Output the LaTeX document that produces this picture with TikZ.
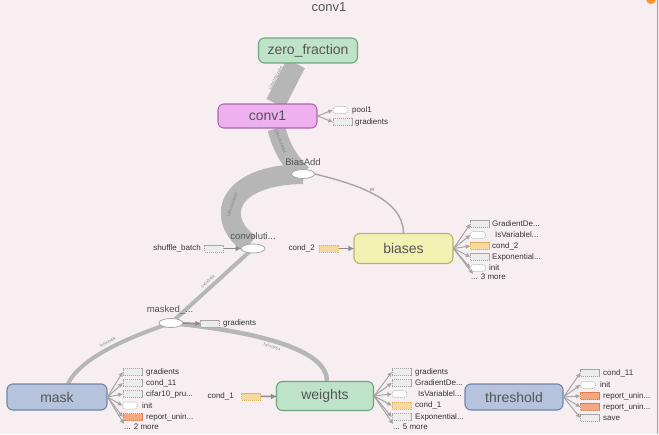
\documentclass[tikz,border=0pt]{standalone}
\usepackage{fontspec}
\setmainfont{Liberation Sans}
\usetikzlibrary{arrows.meta,calc,shapes.geometric}
\definecolor{bgc}{RGB}{247,238,242}
\definecolor{greenf}{RGB}{191,227,200}
\definecolor{greend}{RGB}{110,165,125}
\definecolor{magf}{RGB}{238,176,238}
\definecolor{magd}{RGB}{176,102,176}
\definecolor{yelf}{RGB}{241,241,178}
\definecolor{yeld}{RGB}{182,182,107}
\definecolor{bluef}{RGB}{181,195,221}
\definecolor{blued}{RGB}{115,131,166}
\definecolor{edgec}{RGB}{182,182,182}
\definecolor{thinc}{RGB}{165,165,165}
\definecolor{inc}{RGB}{140,140,140}
\definecolor{txt}{RGB}{85,85,85}
\definecolor{orf}{RGB}{246,217,160}
\definecolor{ord}{RGB}{224,176,96}
\definecolor{salf}{RGB}{243,168,130}
\definecolor{sald}{RGB}{224,128,80}
\definecolor{grf}{RGB}{236,236,236}
\definecolor{grd}{RGB}{165,165,165}
\pgfdeclarelayer{bg}\pgfdeclarelayer{edges}\pgfsetlayers{bg,edges,main}
\tikzset{
 big/.style={draw, rounded corners=6pt, line width=1.1pt, minimum width=99pt, minimum height=25pt, font=\fontsize{14}{14}\selectfont, text=txt, inner sep=0pt},
 opnode/.style={ellipse, draw=grd, fill=white, line width=0.8pt, minimum width=24pt, minimum height=9pt, inner sep=0pt},
 oplbl/.style={font=\fontsize{9.5}{10}\selectfont, text=txt, inner sep=0pt},
 aux/.style={draw=grd, fill=grf, dash pattern=on 1.2pt off 0.8pt, line width=0.5pt, minimum width=19pt, minimum height=7pt, inner sep=0pt},
 auxw/.style={aux, fill=white, rounded corners=3pt, minimum width=15pt},
 auxo/.style={aux, fill=orf, draw=ord},
 auxs/.style={aux, fill=salf, draw=sald},
 sl/.style={font=\fontsize{8}{8}\selectfont, text=black!80, inner sep=0pt, anchor=west},
 slr/.style={font=\fontsize{8}{8}\selectfont, text=black!80, inner sep=0pt, anchor=east},
 fan/.style={draw=thinc, line width=1pt, -{Triangle[width=4pt,length=4.5pt]}},
 infan/.style={draw=inc, solid, line width=1.5pt, -{Triangle[width=5pt,length=5pt]}},
 bandE/.style={draw=edgec, line width=20pt},
 medE/.style={draw=edgec, line width=4pt},
 thinE/.style={draw=thinc, line width=1.4pt},
 elbl/.style={font=\fontsize{4}{4}\selectfont, text=black!50, inner sep=0pt, sloped}
}
\begin{document}
\begin{tikzpicture}[x=1pt,y=-1pt]
\useasboundingbox (0,0) rectangle (659,434);
\begin{pgfonlayer}{bg}
\fill[bgc] (0,0) rectangle (659,434);
\draw[red!55, line width=1.5pt] (657.5,0) -- (657.5,434);
\fill[orange!85] (651,-1) circle (5);
\end{pgfonlayer}

\node[font=\fontsize{13}{13}\selectfont, text=txt] (title) at (329,7) {conv1};

% main nodes
\node[big, fill=greenf, draw=greend] (zf) at (308,50.5) {zero\_fraction};
\node[big, fill=magf, draw=magd, minimum height=24pt] (conv1) at (267.5,116) {conv1};
\node[big, fill=yelf, draw=yeld, minimum height=30pt] (biases) at (403.5,248.5) {biases};
\node[big, fill=bluef, draw=blued, minimum width=100pt, minimum height=26pt] (mask) at (57,397) {mask};
\node[big, fill=greenf, draw=greend, minimum width=97pt, minimum height=29pt] (weights) at (325,396) {weights};
\node[big, fill=bluef, draw=blued, minimum width=98pt, minimum height=26pt] (threshold) at (514,397) {threshold};

% op nodes
\node[opnode, minimum width=23pt] (biasadd) at (303,174) {};
\node[oplbl] (biasaddl) at (303,162) {BiasAdd};
\node[opnode] (conv) at (253,248.5) {};
\node[oplbl] (convl) at (253,236) {convoluti...};
\node[opnode] (masked) at (171,323) {};
\node[oplbl] (maskedl) at (170,310) {masked\_...};

% small input / output boxes
\node[aux] (sb) at (214,248.5) {};
\node[slr] (sbl) at (201,248.5) {shuffle\_batch};
\node[auxo] (c2) at (328.5,248.5) {};
\node[slr] (c2l) at (315,248.5) {cond\_2};
\node[auxo] (c1in) at (251,396.5) {};
\node[slr] (c1inl) at (234,396.5) {cond\_1};
\node[aux] (mg) at (210,323.5) {};
\node[sl] (mgl) at (223,323.5) {gradients};

% main edges
\begin{pgfonlayer}{edges}
\draw[bandE] ($(zf.south)+(-12,0)$) -- node[elbl, above=0pt] {128x24x24x64} ($(conv1.north)+(8,0)$);
\draw[bandE, line width=18pt] ($(conv1.south)+(9,0)$) .. controls (281,148) and (292,165) .. node[elbl, pos=0.22] {128x24x24x64} (biasadd.center);
\draw[bandE] (biasadd.center) .. controls (225,175) and (215,220) .. node[elbl, pos=0.55] {128x24x24x64} (250,244);
\draw[thinE] (biasadd.east) .. controls (360,185) and (403,200) .. node[elbl, pos=0.45, above=1pt, text=black!60] {64} (biases.north);
\draw[medE] (conv.center) -- node[elbl, above=2.5pt] {5x5x3x64} (masked.center);
\draw[medE] (masked.center) .. controls (120,340) and (80,360) .. node[elbl, pos=0.45, above=2.5pt] {5x5x3x64} ($(mask.north)+(11,0)$);
\draw[medE, line width=4.5pt] (masked.center) .. controls (260,332) and (327,350) .. node[elbl, pos=0.45, below=2.5pt] {5x5x3x64} ($(weights.north)+(2,0)$);
% input connectors, drawn centre to centre under the boxes
\draw[inc, line width=1.5pt] (sb.center) -- (conv.center);
\draw[inc, line width=1.5pt] (c2.center) -- (biases.center);
\draw[inc, line width=1.5pt] (c1in.center) -- (weights.center);
\draw[inc, line width=1.5pt] (masked.center) -- (mg.center);
\end{pgfonlayer}

% arrow heads of the input connectors
\draw[infan] ($(conv.west)+(-6,0)$) -- (conv.west);
\draw[infan] ($(biases.west)+(-6,0)$) -- (biases.west);
\draw[infan] ($(c1in -| weights.west)+(-6,0)$) -- (c1in -| weights.west);
\draw[infan] ($(mg.west)+(-6,0)$) -- (mg.west);

% conv1 outputs
\node[auxw] (c1a) at (340.5,110) {};
\node[sl] (c1al) at (352,110) {pool1};
\node[aux] (c1b) at (342.5,122) {};
\node[sl] (c1bl) at (355,122) {gradients};
\draw[fan] (conv1.east) -- (c1a.west);
\draw[fan] (conv1.east) -- (c1b.west);

% biases outputs
\node[aux] (b1) at (480,224) {};
\node[sl] (b1l) at (492,224) {GradientDe...};
\node[auxw] (b2) at (478,235) {};
\node[sl] (b2l) at (495,235) {IsVariablel...};
\node[auxo] (b3) at (480,246) {};
\node[sl] (b3l) at (492,246) {cond\_2};
\node[aux] (b4) at (480,257) {};
\node[sl] (b4l) at (492,257) {Exponential...};
\node[auxw] (b5) at (478,268) {};
\node[sl] (b5l) at (489,268) {init};
\node[sl] (b6l) at (471,277) {... 3 more};
\foreach \n in {b1,b2,b3,b4,b5} \draw[fan] (biases.east) -- (\n.west);
\draw[fan] (biases.east) -- (473,274);

% mask outputs
\node[aux] (m1) at (132.5,372) {};
\node[sl] (m1l) at (146,372) {gradients};
\node[aux] (m2) at (132.5,383) {};
\node[sl] (m2l) at (146,383) {cond\_11};
\node[aux] (m3) at (132.5,394) {};
\node[sl] (m3l) at (146,394) {cifar10\_pru...};
\node[auxw] (m4) at (130,405.5) {};
\node[sl] (m4l) at (142,405.5) {init};
\node[auxs] (m5) at (132.5,417) {};
\node[sl] (m5l) at (146,417) {report\_unin...};
\node[sl] (m6l) at (124,427) {... 2 more};
\foreach \n in {m1,m2,m3,m4,m5} \draw[fan] (mask.east) -- (\n.west);
\draw[fan] (mask.east) -- (124,424);

% weights outputs
\node[aux] (w1) at (401.5,372) {};
\node[sl] (w1l) at (415,372) {gradients};
\node[aux] (w2) at (401.5,383) {};
\node[sl] (w2l) at (415,383) {GradientDe...};
\node[auxw] (w3) at (399.5,394) {};
\node[sl] (w3l) at (418,394) {IsVariablel...};
\node[auxo] (w4) at (401.5,405.5) {};
\node[sl] (w4l) at (415,405.5) {cond\_1};
\node[aux] (w5) at (401.5,417) {};
\node[sl] (w5l) at (415,417) {Exponential...};
\node[sl] (w6l) at (393,427) {... 5 more};
\foreach \n in {w1,w2,w3,w4,w5} \draw[fan] (weights.east) -- (\n.west);
\draw[fan] (weights.east) -- (393,424);

% threshold outputs
\node[aux] (t1) at (590,373) {};
\node[sl] (t1l) at (603,373) {cond\_11};
\node[auxw] (t2) at (588,385) {};
\node[sl] (t2l) at (600,385) {init};
\node[auxs] (t3) at (590,396) {};
\node[sl] (t3l) at (603,396) {report\_unin...};
\node[auxs] (t4) at (590,407) {};
\node[sl] (t4l) at (603,407) {report\_unin...};
\node[aux] (t5) at (590,418) {};
\node[sl] (t5l) at (603,418) {save};
\foreach \n in {t1,t2,t3,t4,t5} \draw[fan] (threshold.east) -- (\n.west);
\end{tikzpicture}
\end{document}
